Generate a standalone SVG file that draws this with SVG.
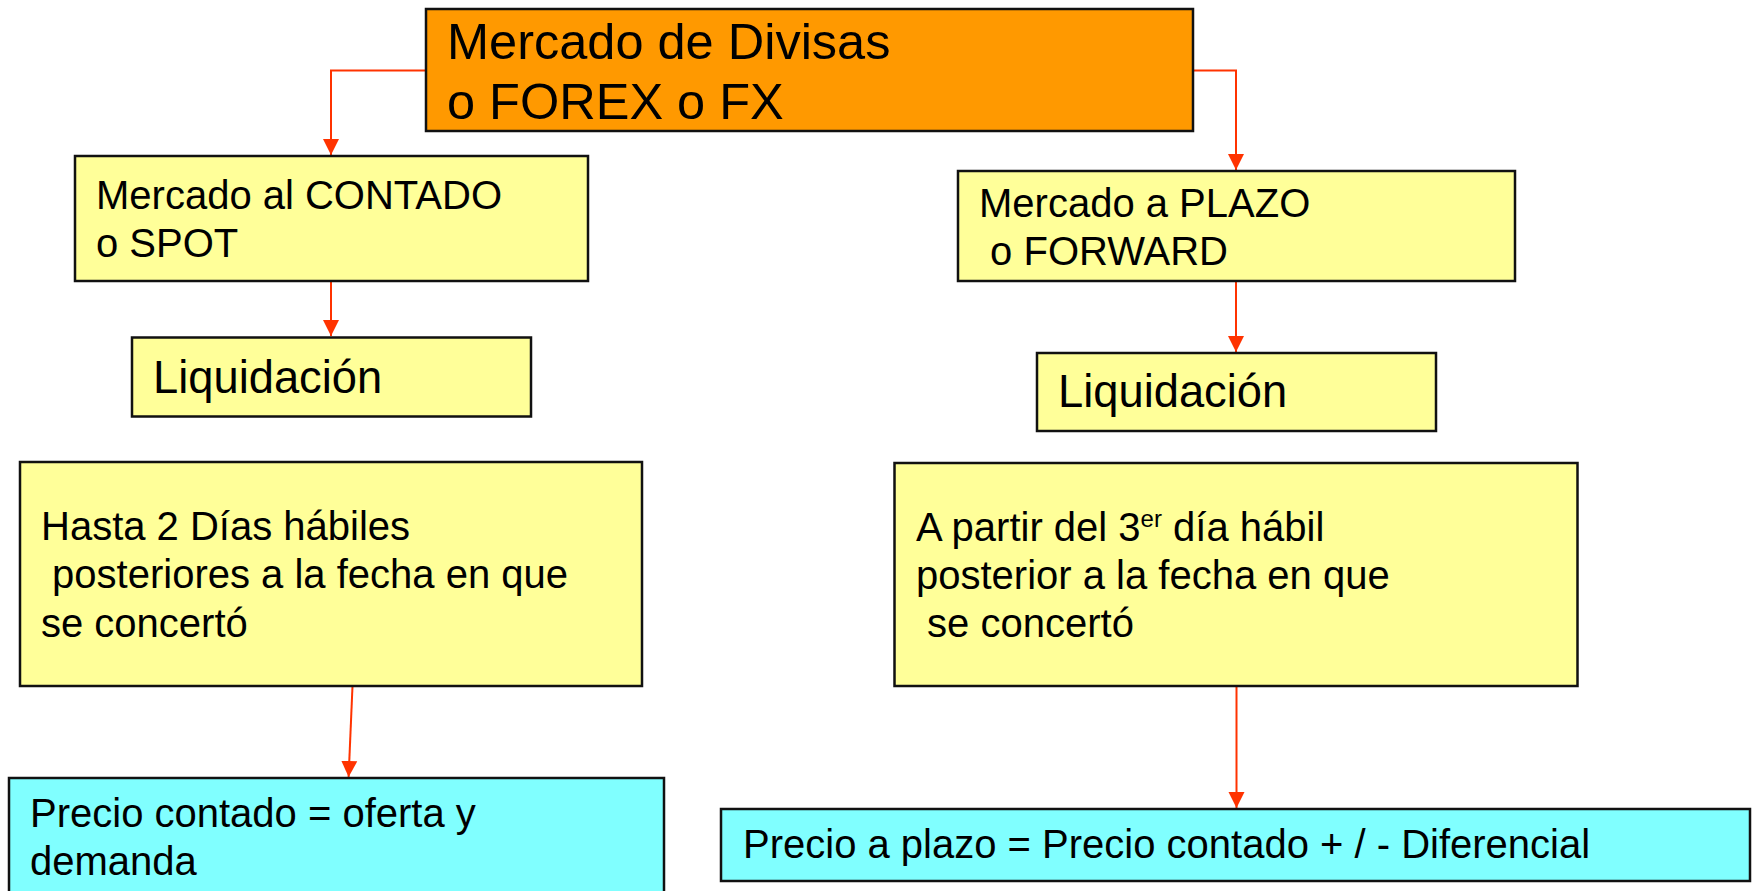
<svg xmlns="http://www.w3.org/2000/svg" width="1752" height="891" viewBox="0 0 1752 891">
<style>
.box{stroke:#111;stroke-width:2.5}
.o{fill:#FF9900}
.y{fill:#FFFF99}
.c{fill:#80FFFF}
text{font-family:"Liberation Sans",Arial,sans-serif;fill:#000;white-space:pre}
.t50{font-size:50.5px}
.t45{font-size:45.3px}
.t40{font-size:40px}
.con{fill:none;stroke:#FF3300;stroke-width:2}
</style>
<defs>
<marker id="ah" markerUnits="userSpaceOnUse" markerWidth="17" markerHeight="17" viewBox="0 0 17 17" refX="16" refY="8.5" orient="auto">
<path d="M0,0.5 L16,8.5 L0,16.5 Z" fill="#FF3300"/>
</marker>
</defs>
<rect width="1752" height="891" fill="#fff"/>
<g id="connectors">
<path class="con" d="M426,70.5 H331 V155" marker-end="url(#ah)"/>
<path class="con" d="M1193,70.5 H1236 V170" marker-end="url(#ah)"/>
<path class="con" d="M331,281 V336" marker-end="url(#ah)"/>
<path class="con" d="M1236,281 V352" marker-end="url(#ah)"/>
<path class="con" d="M352.5,686 L348.6,777" marker-end="url(#ah)"/>
<path class="con" d="M1236.5,686 V808" marker-end="url(#ah)"/>
</g>
<g id="forex">
<rect class="box o" x="426" y="9" width="767" height="122"/>
<text class="t50" x="447" y="59">Mercado de Divisas</text>
<text class="t50" x="447" y="119">o FOREX o FX</text>
</g>
<g id="spot">
<rect class="box y" x="75" y="156" width="513" height="125"/>
<text class="t40" x="96" y="209">Mercado al CONTADO</text>
<text class="t40" x="96" y="256.5">o SPOT</text>
</g>
<g id="forward">
<rect class="box y" x="958" y="171" width="557" height="110"/>
<text class="t40" x="979" y="216.5">Mercado a PLAZO</text>
<text class="t40" x="979" y="265"> o FORWARD</text>
</g>
<g id="liq-spot">
<rect class="box y" x="132" y="337.5" width="399" height="79"/>
<text class="t45" x="153" y="393">Liquidación</text>
</g>
<g id="liq-forward">
<rect class="box y" x="1037" y="353" width="399" height="78"/>
<text class="t45" x="1058" y="407">Liquidación</text>
</g>
<g id="hasta">
<rect class="box y" x="20" y="462" width="622" height="224"/>
<text class="t40" x="41" y="540">Hasta 2 Días hábiles</text>
<text class="t40" x="41" y="588"> posteriores a la fecha en que</text>
<text class="t40" x="41" y="636.5">se concertó</text>
</g>
<g id="apartir">
<rect class="box y" x="894.5" y="463" width="683" height="223"/>
<text class="t40" x="916" y="540.5">A partir del 3<tspan font-size="24" dy="-14">er</tspan><tspan dy="14"> día hábil</tspan></text>
<text class="t40" x="916" y="588.5">posterior a la fecha en que</text>
<text class="t40" x="916" y="636.5"> se concertó</text>
</g>
<g id="precio-contado">
<rect class="box c" x="9" y="778" width="655" height="130"/>
<text class="t40" x="30" y="826.5">Precio contado = oferta y</text>
<text class="t40" x="30" y="875">demanda</text>
</g>
<g id="precio-plazo">
<rect class="box c" x="721" y="809" width="1029" height="72"/>
<text class="t40" x="743" y="858">Precio a plazo = Precio contado + / - Diferencial</text>
</g>
</svg>
